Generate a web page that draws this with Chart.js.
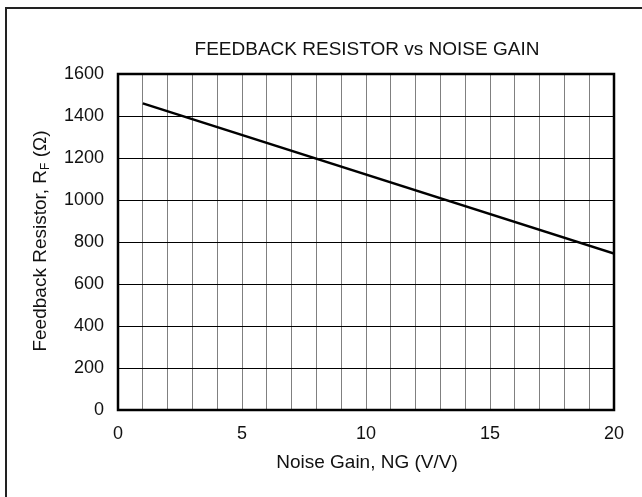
<!DOCTYPE html>
<html>
<head>
<meta charset="utf-8">
<script src="https://cdn.jsdelivr.net/npm/chart.js@4"></script>
<style>
  html, body { margin: 0; padding: 0; background: #fff; }
  #wrap { width: 642px; height: 497px; position: relative; }
</style>
</head>
<body>
<div id="wrap"><canvas id="chart" width="642" height="497"></canvas></div>
<script>
const noiseGain = [1, 20];
const feedbackR = [1460, 745];
const xTicks = [0, 5, 10, 15, 20];
const yTicks = [0, 200, 400, 600, 800, 1000, 1200, 1400, 1600];

const FONT = "'Liberation Sans', Arial, sans-serif";

const textPlugin = {
  id: 'texts',
  beforeDraw(chart) {
    const c = chart.ctx;
    c.save();
    c.fillStyle = '#fff';
    c.fillRect(0, 0, chart.width, chart.height);
    // outer frame (top + left edges visible)
    c.strokeStyle = '#222';
    c.lineWidth = 2;
    c.beginPath();
    c.moveTo(6, 497);
    c.lineTo(6, 8);
    c.lineTo(642, 8);
    c.stroke();
    c.restore();
  },
  afterDraw(chart) {
    const c = chart.ctx;
    const a = chart.chartArea;
    const cx = (a.left + a.right) / 2;
    c.save();
    c.strokeStyle = '#000';
    c.lineWidth = 2.5;
    c.strokeRect(a.left, a.top, a.right - a.left, a.bottom - a.top);

    c.fillStyle = '#111';
    c.font = '19px ' + FONT;
    c.textAlign = 'center';
    c.textBaseline = 'middle';
    c.fillText('FEEDBACK RESISTOR vs NOISE GAIN', cx + 1, 50);
    c.fillText('Noise Gain, NG (V/V)', cx + 1, 463);

    // rotated y title with subscript F
    c.translate(41, (a.top + a.bottom) / 2 - 1);
    c.rotate(-Math.PI / 2);
    const p1 = 'Feedback Resistor, R';
    const sub = 'F';
    const p2 = ' (\u03A9)';
    c.font = '19px ' + FONT;
    const w1 = c.measureText(p1).width;
    const w3 = c.measureText(p2).width;
    c.font = '12px ' + FONT;
    const w2 = c.measureText(sub).width;
    const start = -(w1 + w2 + w3) / 2;
    c.textAlign = 'left';
    c.font = '19px ' + FONT;
    c.fillText(p1, start, 0);
    c.font = '12px ' + FONT;
    c.fillText(sub, start + w1, 5);
    c.font = '19px ' + FONT;
    c.fillText(p2, start + w1 + w2, 0);
    c.restore();
  }
};

new Chart(document.getElementById('chart').getContext('2d'), {
  type: 'line',
  data: {
    datasets: [{
      data: noiseGain.map((x, i) => ({ x: x, y: feedbackR[i] })),
      borderColor: '#000',
      borderWidth: 2.5,
      pointRadius: 0,
      fill: false,
      tension: 0
    }]
  },
  options: {
    responsive: false,
    animation: false,
    layout: { padding: { left: 0, right: 28, top: 74, bottom: 0 } },
    plugins: { legend: { display: false }, tooltip: { enabled: false }, title: { display: false } },
    scales: {
      x: {
        type: 'linear',
        min: 0, max: 20,
        afterFit(s) { s.height = 87; },
        ticks: {
          stepSize: 1,
          padding: 13,
          maxRotation: 0,
          autoSkip: false,
          color: '#111',
          font: { family: FONT, size: 18 },
          callback: v => xTicks.includes(v) ? String(v) : ''
        },
        grid: { color: '#808080', lineWidth: 1, drawTicks: false },
        border: { display: false }
      },
      y: {
        min: 0, max: 1600,
        afterFit(s) { s.width = 118; },
        ticks: {
          stepSize: 200,
          padding: 14,
          color: '#111',
          font: { family: FONT, size: 18 },
          callback: v => yTicks.includes(v) ? String(v) : ''
        },
        grid: { color: '#000', lineWidth: 1, drawTicks: false },
        border: { display: false }
      }
    }
  },
  plugins: [textPlugin]
});
</script>
</body>
</html>
